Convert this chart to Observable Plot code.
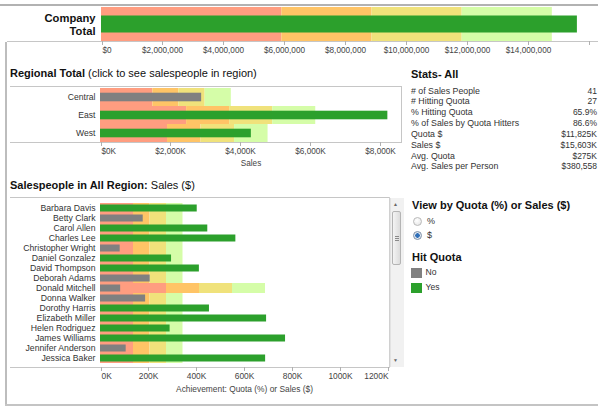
<!DOCTYPE html>
<html><head><meta charset="utf-8">
<script src="https://cdn.jsdelivr.net/npm/d3@7"></script>
<script src="https://cdn.jsdelivr.net/npm/@observablehq/plot@0.6"></script>
<style>
body{margin:0;background:#fff;}
#root{position:relative;width:598px;height:406px;overflow:hidden;font-family:"Liberation Sans",Arial,sans-serif;color:#333;background:#fff;}
.abs{position:absolute;}
.line{position:absolute;background:#c8c8c8;}
.t{position:absolute;white-space:nowrap;}
.head{font-size:11px;line-height:14px;color:#111;}
.head b{font-weight:bold;}
.stat{font-size:8.8px;line-height:11px;color:#333;}
.radio{position:absolute;width:7px;height:7px;border-radius:50%;border:1px solid #b9b9b9;background:radial-gradient(circle at 40% 35%,#fff,#e2e2e2);}
.radio.on{border-color:#7d8fa6;background:radial-gradient(circle,#2f6fb8 0 2px,#dfe6ef 2.5px);}
.sw{position:absolute;width:11px;height:10px;}
svg{overflow:visible;}
</style></head><body><div id="root"></div>
<script>
// ---------- data ----------
const companyCats = ["Company Total"];
const companyQuota = [11825000];
const companySales = [15603000];

const regions = ["Central", "East", "West"];
const regionQuota = [2990000, 4920000, 3830000];
const regionSales = [2890000, 8210000, 4310000];

const people = ["Barbara Davis","Betty Clark","Carol Allen","Charles Lee","Christopher Wright","Daniel Gonzalez","David Thompson","Deborah Adams","Donald Mitchell","Donna Walker","Dorothy Harris","Elizabeth Miller","Helen Rodriguez","James Williams","Jennifer Anderson","Jessica Baker"];
const peopleQuota = [275000,275000,275000,275000,275000,275000,275000,275000,550000,275000,275000,275000,275000,275000,275000,275000];
const peopleSales = [403000,178000,447000,564000,82000,296000,412000,207000,84000,188000,454000,692000,290000,771000,107000,688000];

const bandNames = ["50%","75%","100%","125%"];
const bandPcts = [0.5, 0.75, 1.0, 1.25];
const bandColors = ["#ff9d80","#ffc466","#f0e27b","#d5fda8"];
const hitNames = ["No","Yes"];
const hitColors = ["#808080","#2ca02c"];

const companyTicks = [0,2e6,4e6,6e6,8e6,10e6,12e6,14e6,16e6];
const regionTicks = [0,2e6,4e6,6e6,8e6];
const peopleTicks = [0,200000,400000,600000,800000,1000000,1200000];

const statLabels = ["# of Sales People","# Hitting Quota","% Hitting Quota","% of Sales by Quota Hitters","Quota $","Sales $","Avg. Quota","Avg. Sales per Person"];
const statValues = ["41","27","65.9%","86.6%","$11,825K","$15,603K","$275K","$380,558"];

// ---------- helpers ----------
const root = document.getElementById("root");
function place(el, left, top){ const d=document.createElement("div"); d.className="abs"; d.style.left=left+"px"; d.style.top=top+"px"; d.appendChild(el); root.appendChild(d); return d; }
function line(l,t,w,h,c){ const d=document.createElement("div"); d.className="line"; Object.assign(d.style,{left:l+"px",top:t+"px",width:w+"px",height:h+"px"}); if(c) d.style.background=c; root.appendChild(d); return d; }
function text(l,t,html,cls,extra){ const d=document.createElement("div"); d.className="t "+cls; d.style.left=l+"px"; d.style.top=t+"px"; d.innerHTML=html; if(extra) Object.assign(d.style,extra); root.appendChild(d); return d; }

function bullet(o){
  const rows = o.cats.map((c,i)=>({cat:c, quota:o.quota[i], sales:o.sales[i], hit: o.sales[i]>=o.quota[i]?"Yes":"No"}));
  const bands = rows.flatMap(r => bandPcts.map((p,j)=>({cat:r.cat, x1: j ? r.quota*bandPcts[j-1] : 0, x2: r.quota*p, band: bandNames[j]})));
  const tk = o.ticks;
  const axCommon = {tickSize:4, tickPadding:2, tickFormat:o.fmt, fontSize:o.tickFont, color:"#666", fill:"#444", stroke:"#b0b0b0"};
  const axes = [
    Plot.axisX({...axCommon, ticks:[tk[0]], textAnchor:"start", dx:1, label:null}),
    Plot.axisX({...axCommon, ticks: o.lastEnd ? tk.slice(1,-1) : tk.slice(1), label:o.xLabel, labelAnchor:"center", labelArrow:"none"})
  ];
  if (o.lastEnd) axes.push(Plot.axisX({...axCommon, ticks:[tk[tk.length-1]], textAnchor:"end", dx:0, label:null}));
  return Plot.plot({
    width:o.width, height:o.height,
    marginLeft:o.ml, marginRight:o.mr, marginTop:o.mt, marginBottom:o.mb,
    style:{fontFamily:'"Liberation Sans",Arial,sans-serif', background:"transparent", color:"#444", overflow:"visible"},
    x:{domain:o.xDomain, label:null},
    y:{domain:o.cats, padding:0, label:null},
    color:{domain:bandNames.concat(hitNames), range:bandColors.concat(hitColors)},
    marks:[
      Plot.barX(bands, {y:"cat", x1:"x1", x2:"x2", fill:"band"}),
      Plot.barX(rows, {y:"cat", x:"sales", fill:"hit", insetTop:o.inset, insetBottom:o.inset}),
      Plot.ruleX(rows, {x:"quota", y:"cat", stroke:"#a6a6a6", strokeWidth:2}),
      ...axes,
      Plot.axisY({tickSize:0, tickPadding:o.yPad, fontSize:o.yFont, fontWeight:o.yWeight||"normal", fill:o.yFill||"#333", lineHeight:o.lineHeight||1, tickFormat:o.yFmt, label:null})
    ]
  });
}

// ---------- frame lines ----------
line(0,4,598,2,"#b2b2b2");
line(5,42,2,364,"#bdbdbd");
line(5,404,598,2,"#c4c4c4");
line(7,41,591,1,"#c6c6c6");
line(10,86,391,1,"#c6c6c6");
line(10,142,391,1,"#c6c6c6");
line(401,86,1,57,"#c6c6c6");
line(10,197,380,1,"#c6c6c6");
line(10,367,380,1,"#c6c6c6");
line(389,197,1,171,"#d0d0d0");

// ---------- company total ----------
place(bullet({cats:companyCats, quota:companyQuota, sales:companySales,
  width:598, height:60, ml:101, mr:9, mt:7, mb:19, xDomain:[0,16e6], ticks:companyTicks,
  fmt: d => d>=16e6 ? "" : "$"+d3.format(",")(d), tickFont:8.2, inset:8.5,
  yPad:6, yFont:11.2, yWeight:"bold", yFill:"#111", lineHeight:1.18, yFmt: d => d.replace(" ","\n"), xLabel:null}), 0, 0);

// ---------- regional ----------
text(10,66,'<b>Regional Total</b> (click to see salespeople in region)','head');
place(bullet({cats:regions, quota:regionQuota, sales:regionSales,
  width:402, height:82, ml:100, mr:1, mt:1, mb:26, xDomain:[0,8.6e6], ticks:regionTicks,
  fmt: d => "$"+d3.format(",")(d/1000)+"K", tickFont:8.2, inset:4.7,
  yPad:5, yFont:8.6, xLabel:"Sales"}), 0, 86);

// ---------- stats ----------
text(411,67,'<b>Stats- All</b>','head');
statLabels.forEach((s,i)=>{
  text(411, 85.5+i*10.85, s, 'stat');
  text(0, 85.5+i*10.85, statValues[i], 'stat', {left:"auto", right:"1px", textAlign:"right", fontSize:"8.5px"});
});

// ---------- salespeople ----------
text(10,178,'<b>Salespeople in All Region:</b> Sales ($)','head');
place(bullet({cats:people, quota:peopleQuota, sales:peopleSales,
  width:404, height:197, ml:100, mr:16, mt:1, mb:27, xDomain:[0,1200000], ticks:peopleTicks,
  fmt: d => d3.format("")(d/1000)+"K", tickFont:8.4, inset:1.5, lastEnd:true,
  yPad:5, yFont:8.7, xLabel:"Achievement: Quota (%) or Sales ($)"}), 0, 197);

// ---------- scrollbar ----------
(function(){
  const sb=document.createElement("div"); Object.assign(sb.style,{position:"absolute",left:"390px",top:"198px",width:"13px",height:"169px",background:"#f1f1f1",borderLeft:"1px solid #e2e2e2"}); root.appendChild(sb);
  const th=document.createElement("div"); Object.assign(th.style,{position:"absolute",left:"392px",top:"211px",width:"9px",height:"54px",background:"linear-gradient(90deg,#f4f4f4,#dcdcdc)",border:"1px solid #b4b4b4",borderRadius:"2px",boxSizing:"border-box"}); root.appendChild(th);
  for(let k=0;k<3;k++) line(394.5,236+k*2,4,1,"#8a8a8a");
  text(393,201,'\u25B2','',{fontSize:"5px",color:"#666"});
  text(393,357,'\u25BC','',{fontSize:"5px",color:"#666"});
})();

// ---------- legend ----------
text(412,198,'<b>View by Quota (%) or Sales ($)</b>','head');
const r1=document.createElement("div"); r1.className="radio"; Object.assign(r1.style,{left:"413px",top:"217px"}); root.appendChild(r1);
const r2=document.createElement("div"); r2.className="radio on"; Object.assign(r2.style,{left:"413px",top:"230.5px"}); root.appendChild(r2);
text(427,216,'%','stat',{fontSize:"9px"});
text(427,229.5,'$','stat',{fontSize:"9px"});
text(412,250,'<b>Hit Quota</b>','head');
hitNames.forEach((n,i)=>{
  const s=document.createElement("div"); s.className="sw"; Object.assign(s.style,{left:"411px",top:(267.5+i*15.3)+"px",background:hitColors[i]}); root.appendChild(s);
  text(425.5, 267+i*15.3, n, 'stat', {fontSize:"8.6px"});
});
</script></body></html>
